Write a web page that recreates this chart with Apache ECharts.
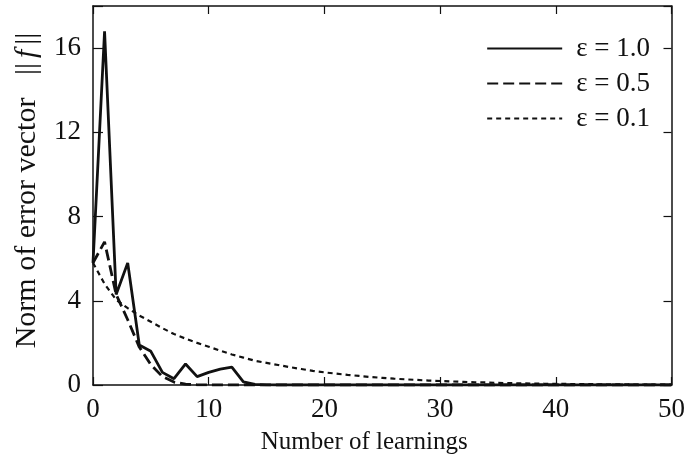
<!DOCTYPE html>
<html><head><meta charset="utf-8">
<script src="https://cdn.jsdelivr.net/npm/echarts@6/dist/echarts.min.js"></script>
<style>html,body{margin:0;padding:0;background:#fff}#c{width:688px;height:461px}</style>
</head><body><div id="c"></div>
<script>
var xs = [];
for (var i = 0; i <= 50; i++) xs.push(i);
var seriesNames = ['ε = 1.0', 'ε = 0.5', 'ε = 0.1'];
var eps10 = [5.8,16.8,4.3,5.8,1.9,1.6,0.6,0.3,1.0,0.4,0.6,0.75,0.85,0.15,0.03,0.01,0,0,0,0,0,0,0,0,0,0,0,0,0,0,0,0,0,0,0,0,0,0,0,0,0,0,0,0,0,0,0,0,0,0,0];
var eps05 = [5.8,6.8,4.3,3.1,1.8,0.97,0.4,0.14,0.04,0.01,0,0,0,0,0,0,0,0,0,0,0,0,0,0,0,0,0,0,0,0,0,0,0,0,0,0,0,0,0,0,0,0,0,0,0,0,0,0,0,0,0];
var eps01 = [5.8,4.8,4.05,3.65,3.3,3.0,2.7,2.42,2.2,2.0,1.82,1.63,1.45,1.3,1.15,1.05,0.95,0.85,0.76,0.67,0.6,0.54,0.48,0.43,0.38,0.34,0.3,0.27,0.24,0.21,0.19,0.17,0.15,0.13,0.12,0.1,0.09,0.08,0.07,0.06,0.06,0.05,0.04,0.04,0.03,0.03,0.03,0.02,0.02,0.02,0.02];
var xTicks = [0,10,20,30,40,50];
var yTicks = [0,4,8,12,16];

function pairs(arr){ return xs.map(function(x,i){ return [x, arr[i]]; }); }
var ink = '#111';
var font = 'Liberation Serif';
var chart = echarts.init(document.getElementById('c'));
var axisCommon = {
  type: 'value',
  axisLine: {show: true, onZero: false, lineStyle: {color: ink, width: 1.5}},
  splitLine: {show: false},
};
chart.setOption({
  animation: false,
  grid: {left: 93, right: 16, top: 6, bottom: 76, containLabel: false},
  legend: {
    orient: 'vertical', right: 33, top: 30, itemWidth: 75, itemHeight: 14, itemGap: 8,
    data: seriesNames,
    itemStyle: {opacity: 0},
    textStyle: {fontFamily: font, fontSize: 27, lineHeight: 27, color: ink, padding: [0,0,0,9]}
  },
  xAxis: [
    Object.assign({}, axisCommon, {
      min: 0, max: 50, interval: 10, position: 'bottom',
      axisTick: {show: true, inside: true, length: 8, lineStyle: {color: ink, width: 1.2}},
      axisLabel: {fontFamily: font, fontSize: 27, color: ink, margin: 11,
        formatter: function(v){ return xTicks.indexOf(v) >= 0 ? String(v) : ''; }},
      name: 'Number of learnings', nameLocation: 'middle', nameGap: 45,
      nameTextStyle: {fontFamily: font, fontSize: 25, color: ink, padding: [0,36,0,0]}
    }),
    Object.assign({}, axisCommon, {
      min: 0, max: 50, interval: 10, position: 'top',
      axisTick: {show: true, inside: true, length: 8, lineStyle: {color: ink, width: 1.2}},
      axisLabel: {show: false}
    })
  ],
  yAxis: [
    Object.assign({}, axisCommon, {
      min: 0, max: 18, interval: 4, position: 'left',
      axisTick: {show: true, inside: true, length: 10, lineStyle: {color: ink, width: 1.2}},
      axisLabel: {fontFamily: font, fontSize: 27, color: ink, margin: 12,
        formatter: function(v){ return yTicks.indexOf(v) >= 0 ? String(v) : ''; }},
      name: 'Norm of error vector   ||{i|f}||', nameLocation: 'middle', nameGap: 51,
      nameTextStyle: {fontFamily: font, fontSize: 30, color: ink, padding: [0,0,0,10],
        rich: {i: {fontFamily: font, fontStyle: 'italic', fontSize: 30, color: ink, padding: [0,5,0,5]}}}
    }),
    Object.assign({}, axisCommon, {
      min: 0, max: 18, interval: 4, position: 'right',
      axisTick: {show: true, inside: true, length: 8, lineStyle: {color: ink, width: 1.2}},
      axisLabel: {show: false}
    })
  ],
  series: [
    {name: seriesNames[0], type: 'line', data: pairs(eps10), symbol: 'none', z: 5,
     lineStyle: {color: ink, width: 2.8, type: 'solid'}, itemStyle: {color: ink}},
    {name: seriesNames[1], type: 'line', data: pairs(eps05), symbol: 'none', z: 4,
     lineStyle: {color: ink, width: 2.8, type: [11, 5]}, itemStyle: {color: ink}},
    {name: seriesNames[2], type: 'line', data: pairs(eps01), symbol: 'none', z: 3,
     lineStyle: {color: ink, width: 2.2, type: [5, 4]}, itemStyle: {color: ink}}
  ]
});
</script></body></html>
